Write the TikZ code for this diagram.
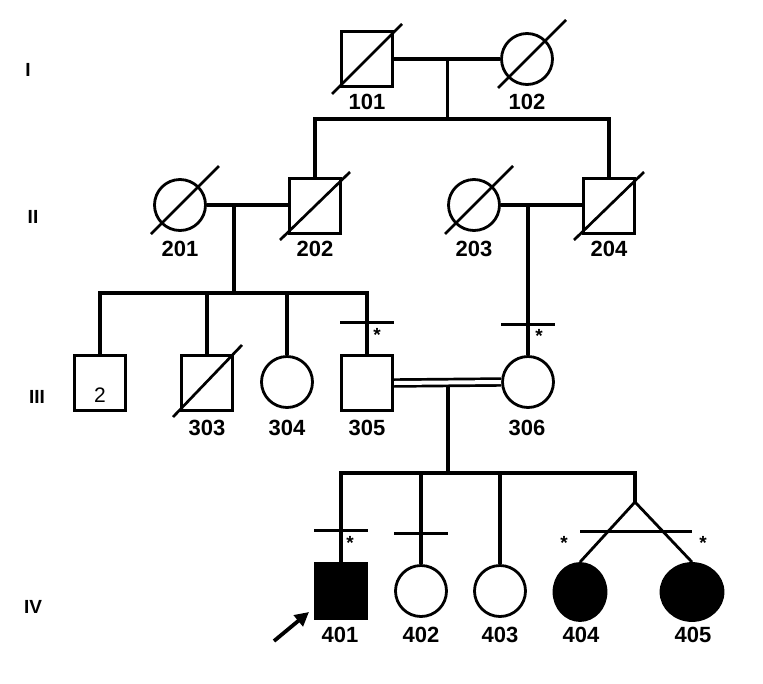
\documentclass[tikz,border=0pt]{standalone}
\usepackage{fontspec}
\setmainfont{Liberation Sans}
\usepackage{tikz}
\usetikzlibrary{arrows.meta, calc, shapes.geometric}
\definecolor{pedline}{gray}{0.0}
\definecolor{pedfill}{gray}{0.0}

\tikzset{
	male/.style={draw=pedline, line width=3.4pt, minimum width=51pt, minimum height=55pt, inner sep=0pt},
	female/.style={ellipse, draw=pedline, line width=2.8pt, minimum width=51pt, minimum height=51pt, inner sep=0pt},
	affected/.style={fill=pedfill},
	link/.style={draw=pedline, line width=3.1pt},
	thinlink/.style={draw=pedline, line width=2.8pt},
	dead/.style={draw=pedline, line width=2.7pt},
	dbl/.style={draw=pedline, line width=2.7pt, double=white, double distance=4pt},
	proband/.style={draw=pedline, line width=3.8pt, -{Triangle[length=14pt, width=14pt]}},
	idlab/.style={font=\bfseries\fontsize{22}{24}\selectfont, inner sep=0pt},
	genlab/.style={font=\bfseries\fontsize{19}{22}\selectfont, inner sep=0pt},
	numlab/.style={font=\fontsize{21}{24}\selectfont, inner sep=0pt},
	astlab/.style={font=\bfseries\fontsize{19}{22}\selectfont, inner sep=0pt},
}

\begin{document}
\begin{tikzpicture}[x=1pt, y=-1pt]
	\useasboundingbox (0,0) rectangle (763,683);

	\node[genlab] (gI) at (28,70) {I};
	\node[genlab] (gII) at (33,217) {II};
	\node[genlab] (gIII) at (37,397) {III};
	\node[genlab] (gIV) at (33,607) {IV};

	\node[male] (p101) at (367,59) {};
	\node[female] (p102) at (527,59) {};

	\node[female] (p201) at (180,205) {};
	\node[male] (p202) at (315,206) {};
	\node[female] (p203) at (474,205) {};
	\node[male] (p204) at (609,206) {};

	\node[male] (p2) at (100,383) {};
	\node[male] (p303) at (207,383) {};
	\node[female] (p304) at (287,382) {};
	\node[male] (p305) at (367,383) {};
	\node[female] (p306) at (528,382) {};

	\node[male, affected] (p401) at (341,591) {};
	\node[female] (p402) at (421,591) {};
	\node[female] (p403) at (500,591) {};
	\node[female, affected, minimum width=52pt, minimum height=57pt] (p404) at (580,592) {};
	\node[female, affected, minimum width=62pt, minimum height=57pt] (p405) at (692,592) {};

	\draw[dead] ($(p101)+(-35,35)$) -- ($(p101)+(35,-35)$);
	\draw[dead] ($(p202)+(-35,34)$) -- ($(p202)+(35,-34)$);
	\draw[dead] ($(p204)+(-35,34)$) -- ($(p204)+(35,-34)$);
	\draw[dead] ($(p303)+(-34,34)$) -- ($(p303)+(35,-38)$);
	\draw[dead] ($(p102)+(-29,29)$) -- ($(p102)+(39,-39)$);
	\draw[dead] ($(p201)+(-29,29)$) -- ($(p201)+(39,-39)$);
	\draw[dead] ($(p203)+(-29,29)$) -- ($(p203)+(39,-39)$);

	\coordinate (m1) at ($(p101.east)!0.5!(p102.west)$);
	\coordinate (s1) at (448,119);
	\draw[link] (p101.east) -- (p102.west);
	\draw[link] (m1) -- (m1 |- s1);
	\draw[link] (p202.north) |- (s1) -| (p204.north);

	\coordinate (m2) at (234,206);
	\coordinate (m3) at (p306.north |- p203.east);
	\coordinate (s2) at (234,293);
	\draw[link] (p201.east) -- (p201.east -| p202.west);
	\draw[link] (p203.east) -- (p203.east -| p204.west);
	\draw[link] (m2) -- (s2);
	\draw[link] (p2.north) |- (s2) -| (p305.north);
	\draw[link] (p303.north) -- (p303.north |- s2);
	\draw[link] (p304.north) -- (p304.north |- s2);
	\draw[link] (m3) -- (p306.north);

	\draw[link] ($(p305.north)+(-27,-31)$) -- ++(54,0);
	\draw[link] ($(p306.north)+(-27,-31)$) -- ++(54,0);
	\node[astlab] (a305) at ($(p305.north)+(10,-19)$) {*};
	\node[astlab] (a306) at ($(p306.north)+(11,-19)$) {*};

	\coordinate (m4) at (448,382);
	\coordinate (s4) at (448,473);
	\coordinate (tw) at (635,502);
	\draw[link] (m4) -- (s4);
	\draw[dbl] (p305.east) -- (p306.west);
	\draw[link] (p401.north) |- (s4) -| (tw);
	\draw[link] (p402.north) -- (p402.north |- s4);
	\draw[link] (p403.north) -- (p403.north |- s4);
	\draw[thinlink] (p404.north) -- (tw) -- (p405.north);

	\draw[link] ($(p401.north)+(-27,-31)$) -- ++(54,0);
	\draw[link] ($(p402.north)+(-27,-31)$) -- ++(54,0);
	\draw[link] ($(p404.north)+(0,-31)$) -- ($(p405.north)+(0,-31)$);
	\node[astlab] (a401) at ($(p401.north)+(9,-19)$) {*};
	\node[astlab] (a404) at ($(p404.north)+(-16,-19)$) {*};
	\node[astlab] (a405) at ($(p405.north)+(11,-19)$) {*};

	\coordinate (arw) at (274,641);
	\draw[proband] (arw) -- ++(35,-29);

	\node[numlab] (n2) at (100,395) {2};
	\node[idlab] (l101) at (367,102) {101};
	\node[idlab] (l102) at (527,102) {102};
	\node[idlab] (l201) at (180,249) {201};
	\node[idlab] (l202) at (315,249) {202};
	\node[idlab] (l203) at (474,249) {203};
	\node[idlab] (l204) at (609,249) {204};
	\node[idlab] (l303) at (207,428) {303};
	\node[idlab] (l304) at (287,428) {304};
	\node[idlab] (l305) at (367,428) {305};
	\node[idlab] (l306) at (527,428) {306};
	\node[idlab] (l401) at (340,635) {401};
	\node[idlab] (l402) at (421,635) {402};
	\node[idlab] (l403) at (500,635) {403};
	\node[idlab] (l404) at (581,635) {404};
	\node[idlab] (l405) at (693,635) {405};
\end{tikzpicture}
\end{document}
